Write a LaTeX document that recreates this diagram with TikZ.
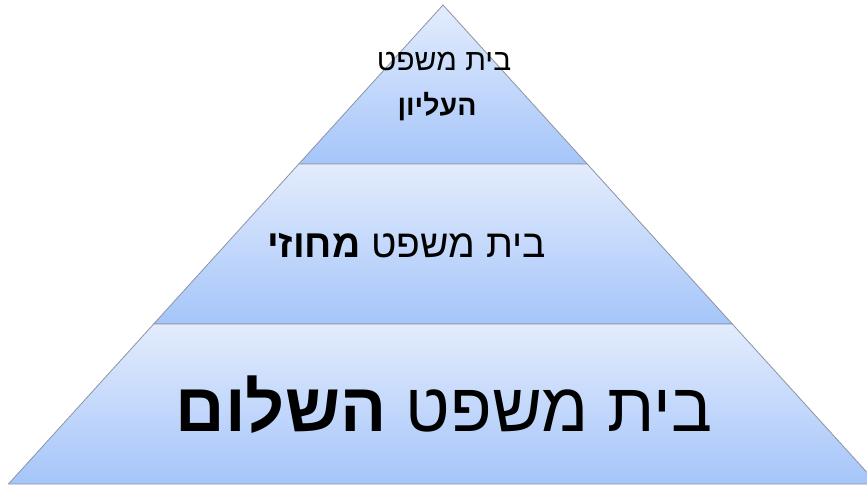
\documentclass[tikz,border=0pt]{standalone}
\usepackage{fontspec}
\TeXXeTstate=1
\newfontfamily\heb[Script=Hebrew]{Liberation Sans}
\definecolor{bandtop}{RGB}{227,236,253}
\definecolor{bandbot}{RGB}{165,197,249}
\definecolor{edgecol}{RGB}{140,148,162}
\begin{document}
\begin{tikzpicture}[x=1bp,y=-1bp,
  band/.style={top color=bandtop,bottom color=bandbot,draw=edgecol,line width=0.8bp},
  lbl/.style={inner sep=0pt,anchor=center,font=\heb}]
\useasboundingbox (0,0) rectangle (867,486);
\begin{scope}
\clip (0,0) rectangle (867,486);
\path[band] (443,5) -- (587.2,164) -- (298.8,164) -- cycle;
\path[band] (298.8,164) -- (587.2,164) -- (732.3,324) -- (153.7,324) -- cycle;
\path[band] (153.7,324) -- (732.3,324) -- (877.5,484) -- (8.5,484) -- cycle;
\end{scope}
\node[lbl,font=\heb\fontsize{30bp}{34bp}\selectfont] (t1) at (444,62) {\beginR בית משפט\endR};
\node[lbl,font=\heb\bfseries\fontsize{28.5bp}{32bp}\selectfont] (t2) at (437,107) {\beginR העליון\endR};
\node[lbl,font=\heb\fontsize{39bp}{44bp}\selectfont] (m) at (406.5,246) {\beginR בית משפט \textbf{מחוזי}\endR};
\node[lbl,font=\heb\fontsize{68.5bp}{76bp}\selectfont] (b) at (444,405) {\beginR בית משפט \textbf{השלום}\endR};
\end{tikzpicture}
\end{document}
